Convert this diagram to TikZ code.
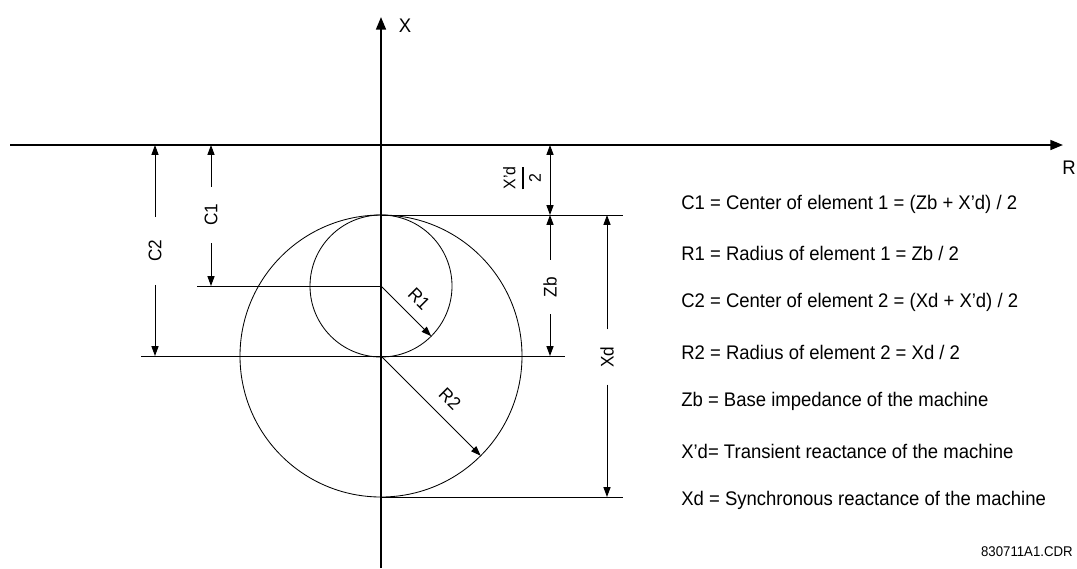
\documentclass[tikz,border=0pt]{standalone}
\usepackage{amsmath}
\usepackage{fontspec}
\setmainfont{Liberation Sans}[FakeStretch=0.94]
\usetikzlibrary{arrows.meta}

\begin{document}
\begin{tikzpicture}[
  x=0.025cm, y=-0.025cm,
  axis/.style={line width=1.5pt, -{Triangle[length=9pt,width=7pt]}},
  dim/.style={line width=0.7pt, -{Triangle[length=7pt,width=5pt]}},
  ext/.style={line width=0.7pt},
  circ/.style={line width=0.6pt},
  lbl/.style={font=\fontsize{13}{15}\selectfont, inner sep=1pt},
  vlbl/.style={lbl, rotate=90, inner xsep=12pt},
  key/.style={font=\fontsize{14}{16}\selectfont, anchor=west, inner sep=0pt}
]
  \useasboundingbox (0,0) rectangle (1077,568);

  % Axes
  \coordinate (O) at (381,145);
  \coordinate (west) at (10,145);
  \coordinate (east) at (1063,145);
  \coordinate (south) at (381,568);
  \coordinate (north) at (381,17);
  \draw[axis] (west) -- (east);
  \draw[axis] (south) -- (north);
  \node[lbl, font=\fontsize{14}{16}\selectfont] (xlab) at (405,26) {X};
  \node[lbl, font=\fontsize{14}{16}\selectfont] (rlab) at (1069,168) {R};

  % Circles
  \coordinate (c1) at (381,286);
  \coordinate (c2) at (381,356);
  \coordinate (top) at (381,215);
  \coordinate (bot) at (381,497);
  \draw[circ] (c1) circle[radius=71];
  \draw[circ] (c2) circle[radius=141];

  % Extension lines
  \coordinate (c1end) at (197,286);
  \coordinate (c2end) at (141,356);
  \coordinate (c2far) at (565,356);
  \coordinate (topfar) at (623,215);
  \coordinate (botfar) at (623,497);
  \draw[ext] (c1) -- (c1end);
  \draw[ext] (c2end) -- (c2far);
  \draw[ext] (top) -- (topfar);
  \draw[ext] (bot) -- (botfar);

  % Radii
  \draw[dim] (c1) -- ++(50.2,50.2) coordinate (r1tip);
  \draw[dim] (c2) -- ++(99.7,99.7) coordinate (r2tip);
  \node[lbl, rotate=-45] (r1lab) at (419,299) {R1};
  \node[lbl, rotate=-45] (r2lab) at (450,399) {R2};

  % Dimensions
  \node[vlbl] (c1lab) at (211,215) {C1};
  \draw[dim] (c1lab) -- (211,145);
  \draw[dim] (c1lab) -- (211,286);
  \node[vlbl, inner xsep=16pt] (c2lab) at (155,251) {C2};
  \draw[dim] (c2lab) -- (155,145);
  \draw[dim] (c2lab) -- (155,356);

  \draw[dim, {Triangle[length=7pt,width=5pt]}-{Triangle[length=7pt,width=5pt]}] (550,145) -- (550,215);
  \node[lbl, rotate=90, font=\fontsize{12}{13}\selectfont] (xdhlab) at (522,178)
    {$\genfrac{}{}{1.3pt}{0}{\mbox{X'd}}{\mbox{2}}$};

  \node[vlbl] (zblab) at (550,287) {Zb};
  \draw[dim] (zblab) -- (550,215);
  \draw[dim] (zblab) -- (550,356);
  \node[vlbl] (xdlab) at (607,357) {Xd};
  \draw[dim] (xdlab) -- (607,215);
  \draw[dim] (xdlab) -- (607,497);

  % Legend
  \foreach \txt [count=\i] in {
      {C1 = Center of element 1 = (Zb + X'd) / 2},
      {R1 = Radius of element 1 = Zb / 2},
      {C2 = Center of element 2 = (Xd + X'd) / 2},
      {R2 = Radius of element 2 = Xd / 2},
      {Zb = Base impedance of the machine},
      {X'd= Transient reactance of the machine},
      {Xd = Synchronous reactance of the machine}}
    \node[key] (key\i) at (681,{204+49.4*(\i-1)}) {\txt};

  \node[key, anchor=east, font=\fontsize{10}{11}\selectfont] (ref) at (1073,552) {830711A1.CDR};
\end{tikzpicture}
\end{document}
